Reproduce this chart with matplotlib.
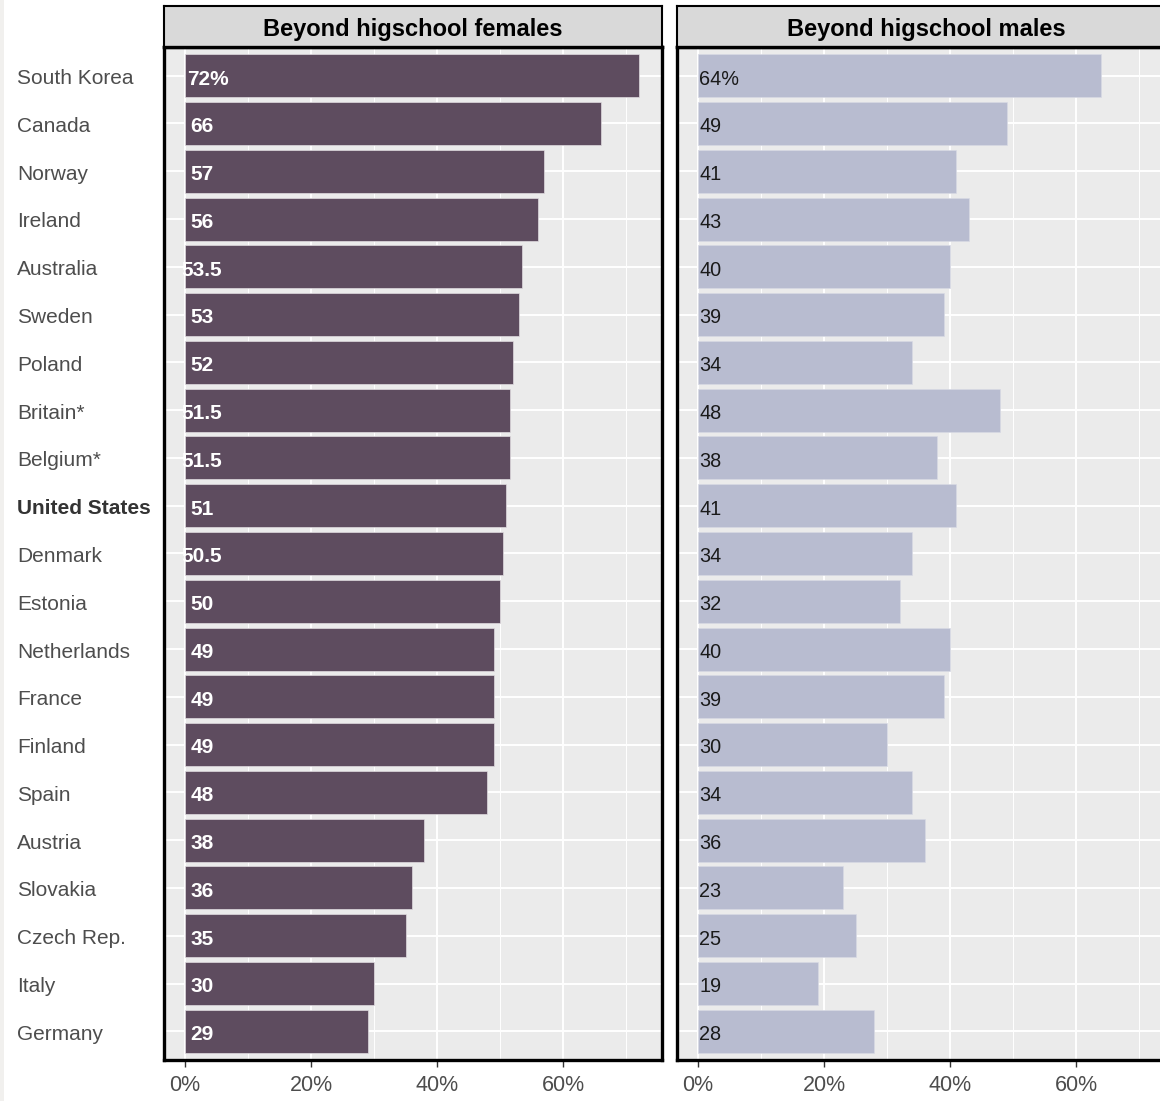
import matplotlib
matplotlib.use("Agg")
import matplotlib.pyplot as plt
from matplotlib.patches import Rectangle

plt.rcParams['font.family'] = ['Liberation Sans', 'DejaVu Sans']

countries = ["South Korea", "Canada", "Norway", "Ireland", "Australia", "Sweden",
             "Poland", "Britain*", "Belgium*", "United States", "Denmark", "Estonia",
             "Netherlands", "France", "Finland", "Spain", "Austria", "Slovakia",
             "Czech Rep.", "Italy", "Germany"]
females = [72, 66, 57, 56, 53.5, 53, 52, 51.5, 51.5, 51, 50.5, 50, 49, 49, 49, 48,
           38, 36, 35, 30, 29]
males = [64, 49, 41, 43, 40, 39, 34, 48, 38, 41, 34, 32, 40, 39, 30, 34, 36, 23,
         25, 19, 28]
panel_titles = ["Beyond higschool females", "Beyond higschool males"]
xticks = [0, 20, 40, 60]
xtick_labels = ["0%", "20%", "40%", "60%"]
highlight = "United States"

W, H = 1160, 1101
fig = plt.figure(figsize=(W / 100, H / 100), dpi=100)
fig.patches.append(Rectangle((0, 0), 4 / W, 1, transform=fig.transFigure,
                             facecolor="#f1f0ee", edgecolor="none", zorder=0))

n = len(countries)
ypos = list(range(n))
xlim = (-3.35, 75.7)

def fmt(v):
    return str(int(v)) if float(v).is_integer() else f"{v:.1f}"

panel_left = [164, 677]
panel_w = 498
top_strip, bot_strip, bot_panel = 6, 47, 1060
dy = 0.07  # visual vertical centring of digits

for i, (vals, title) in enumerate(zip([females, males], panel_titles)):
    L = panel_left[i]
    ax = fig.add_axes([L / W, 1 - bot_panel / H, panel_w / W, (bot_panel - bot_strip) / H])
    ax.set_facecolor("#ebebeb")
    ax.set_xlim(*xlim)
    ax.set_ylim(n - 1 + 0.6, -0.6)
    for x in [10, 30, 50, 70]:
        ax.axvline(x, color="white", lw=0.7, zorder=0.5)
    for x in xticks:
        ax.axvline(x, color="white", lw=1.4, zorder=0.6)
    for y in ypos:
        ax.axhline(y, color="white", lw=1.4, zorder=0.6)
    color = "#5e4c5f" if i == 0 else "#b8bcd0"
    ax.barh(ypos, vals, height=0.9, color=color, edgecolor="#e0dbe0" if i == 0 else "#d8dae4",
            linewidth=0.5, zorder=2)
    for j, v in enumerate(vals):
        lab = fmt(v) + ("%" if j == 0 else "")
        if i == 0:
            if j == 0:
                ax.text(0.3, j + dy, lab, ha="left", va="center", color="white",
                        fontweight="bold", fontsize=15, zorder=3)
            else:
                ax.text(2.7, j + dy, lab, ha="center", va="center", color="white",
                        fontweight="bold", fontsize=15, zorder=3)
        else:
            ax.text(0.15, j + dy, lab, ha="left", va="center", color="#1a1a1a",
                    fontsize=14.3, zorder=3)
    ax.set_xticks(xticks)
    ax.set_xticklabels(xtick_labels, fontsize=15.5, color="#4d4d4d")
    ax.tick_params(axis="x", length=5, width=1, color="#333333", pad=6)
    if i == 0:
        ax.set_yticks([y + 0.02 for y in ypos])
        ax.set_yticklabels(countries, fontsize=15, color="#4d4d4d", ha="left")
        ax.tick_params(axis="y", length=0, pad=147 * 0.72)
        for t in ax.get_yticklabels():
            if t.get_text() == highlight:
                t.set_fontweight("bold")
                t.set_color("#333333")
    else:
        ax.set_yticks([])
    for s in ax.spines.values():
        s.set_linewidth(2.4)
        s.set_color("black")
        s.set_zorder(5)

    sax = fig.add_axes([L / W, 1 - bot_strip / H, panel_w / W, (bot_strip - top_strip) / H])
    sax.set_facecolor("#d9d9d9")
    sax.set_xticks([])
    sax.set_yticks([])
    for s in sax.spines.values():
        s.set_linewidth(1.5)
        s.set_color("black")
    sax.spines["bottom"].set_linewidth(2.4)
    sax.text(0.5, 0.42, title, transform=sax.transAxes, ha="center", va="center",
             fontsize=17, fontweight="bold", color="black")

fig.savefig("out.png", dpi=100)
